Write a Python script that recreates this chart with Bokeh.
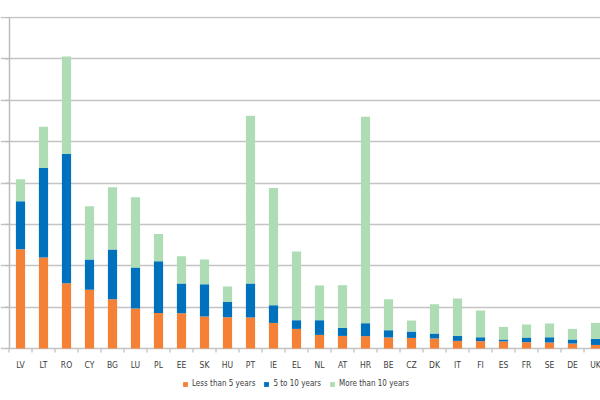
from bokeh.plotting import figure
from bokeh.models import ColumnDataSource, Range1d, FixedTicker, Legend, LegendItem
from bokeh.core.properties import value
from bokeh.embed import file_html
from bokeh.resources import INLINE

countries = ["LV", "LT", "RO", "CY", "BG", "LU", "PL", "EE", "SK", "HU", "PT", "IE", "EL",
             "NL", "AT", "HR", "BE", "CZ", "DK", "IT", "FI", "ES", "FR", "SE", "DE", "UK"]
less_than_5 = [12.0, 11.0, 7.9, 7.1, 5.95, 4.83, 4.3, 4.26, 3.87, 3.78, 3.74, 3.09, 2.37,
               1.64, 1.52, 1.49, 1.33, 1.28, 1.21, 0.92, 0.88, 0.85, 0.76, 0.72, 0.6, 0.43]
five_to_10 = [5.8, 10.8, 15.6, 3.65, 6.0, 4.95, 6.25, 3.6, 3.9, 1.85, 4.1, 2.14, 1.05,
              1.78, 0.97, 1.57, 0.88, 0.77, 0.6, 0.6, 0.48, 0.24, 0.57, 0.64, 0.49, 0.73]
more_than_10 = [2.65, 5.0, 11.8, 6.45, 7.55, 8.5, 3.3, 3.3, 3.0, 1.86, 20.3, 14.17, 8.3,
                4.2, 5.16, 24.95, 3.74, 1.33, 3.54, 4.52, 3.23, 1.52, 1.57, 1.66, 1.28, 1.93]
series_names = ["Less than 5 years", "5 to 10 years", "More than 10 years"]
colors = ["#F58137", "#0071BC", "#AEDCB5"]
y_ticks = [0, 5, 10, 15, 20, 25, 30, 35, 40]

FONT = "'Liberation Sans Narrow', 'DejaVu Sans Condensed', Roboto, sans-serif"
TEXT = "#3c3c3c"
AXIS = "#BDBDBD"

PX = 331 / 40.0          # pixels per value unit (vertical)
XPX = 23.0               # pixels per category

idx = list(range(len(countries)))
source = ColumnDataSource(dict(x=idx, a=less_than_5, b=five_to_10, c=more_than_10))

y_end = 40 + 1 / PX
y_start = y_end - 384 / PX
x_start = -20 / XPX
x_end = 25 + 5 / XPX

p = figure(width=600, height=400, output_backend="svg", toolbar_location=None,
           x_range=Range1d(x_start, x_end), y_range=Range1d(y_start, y_end),
           min_border_left=0, min_border_right=0, min_border_top=16, min_border_bottom=0)
p.outline_line_color = None
p.background_fill_color = "white"
p.xaxis.visible = False
p.yaxis.visible = False
p.xgrid.grid_line_color = None
p.ygrid.ticker = FixedTicker(ticks=y_ticks)
p.ygrid.grid_line_color = "#C4C4C4"
p.ygrid.grid_line_width = 1.3

renderers = p.vbar_stack(["a", "b", "c"], x="x", width=0.4, source=source,
                         color=colors, line_color=None)

# left axis line and its outward ticks
axis_x = -11 / XPX
p.segment(x0=[axis_x], y0=[0], x1=[axis_x], y1=[max(y_ticks)], line_color=AXIS, line_width=1.5)
p.segment(x0=[axis_x - 4 / XPX] * len(y_ticks), y0=y_ticks, x1=[axis_x] * len(y_ticks), y1=y_ticks,
          line_color=AXIS, line_width=1.2)

# category separator ticks under the baseline
sep = [i - 0.5 for i in idx] + [len(idx) - 0.5]
p.segment(x0=sep, y0=[0] * len(sep), x1=sep, y1=[-4 / PX] * len(sep), line_color=AXIS, line_width=1.2)

# category labels
p.text(x=idx, y=[-16 / PX] * len(idx), text=countries, text_align="center", text_baseline="middle",
       text_font=value(FONT), text_font_size="8.5px", text_color=TEXT)

legend = Legend(items=[LegendItem(label=n, renderers=[r]) for n, r in zip(series_names, renderers)],
                orientation="horizontal", location=(182, 12),
                border_line_alpha=0, background_fill_alpha=0, padding=0, margin=0,
                spacing=8, glyph_width=6, glyph_height=6, label_standoff=4,
                label_text_font=FONT, label_text_font_size="8px", label_text_color=TEXT,
                label_height=9)
p.add_layout(legend, "center")

open("out.html", "w").write(file_html(p, INLINE))
